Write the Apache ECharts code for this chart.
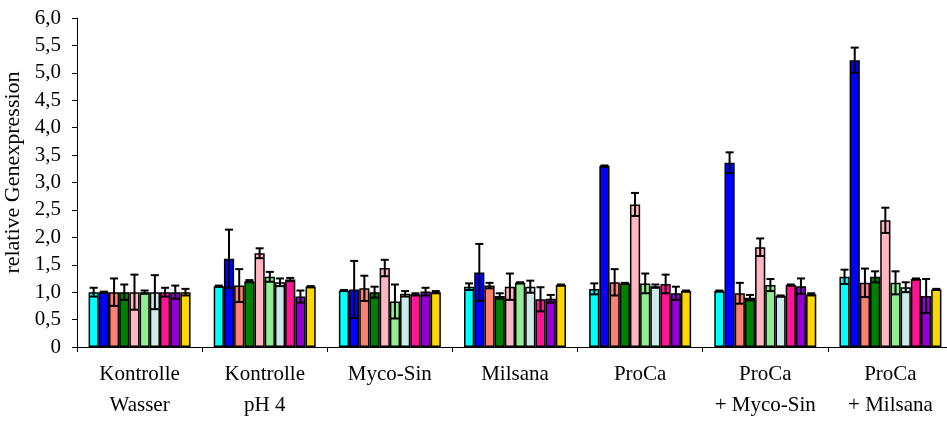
<!DOCTYPE html>
<html>
<head>
<meta charset="utf-8">
<script src="https://cdn.jsdelivr.net/npm/echarts@6/dist/echarts.min.js"></script>
<style>
  html, body { margin: 0; padding: 0; background: #fff; }
  #chart { width: 947px; height: 422px; }
</style>
</head>
<body>
<div id="chart"></div>
<script>
// Treatment groups on the x axis
const categories = [
  'Kontrolle\nWasser', 'Kontrolle\npH 4', 'Myco-Sin', 'Milsana',
  'ProCa', 'ProCa\n+ Myco-Sin', 'ProCa\n+ Milsana'
];

// Y axis ticks (relative expression)
const yMin = 0;
const yMax = 6;
const yStep = 0.5;

// Mean relative expression per gene, one value per treatment group
const valCyan      = [1.00, 1.11, 1.03, 1.10, 1.06, 1.02, 1.28];
const valBlue      = [1.00, 1.61, 1.05, 1.36, 3.30, 3.36, 5.23];
const valSalmon    = [1.00, 1.12, 1.07, 1.12, 1.18, 0.98, 1.17];
const valGreen     = [1.00, 1.20, 1.00, 0.93, 1.16, 0.90, 1.28];
const valPink      = [1.00, 1.71, 1.44, 1.10, 2.60, 1.82, 2.31];
const valLightGrn  = [1.00, 1.28, 0.83, 1.17, 1.16, 1.13, 1.17];
const valPaleCyan  = [1.00, 1.18, 0.97, 1.10, 1.11, 0.93, 1.09];
const valDeepPink  = [1.00, 1.23, 0.96, 0.87, 1.15, 1.13, 1.24];
const valViolet    = [1.00, 0.92, 1.01, 0.88, 0.98, 1.11, 0.93];
const valGold      = [1.00, 1.10, 1.00, 1.13, 1.02, 0.96, 1.05];

// Standard deviations (symmetric error bars)
const errCyan      = [0.08, 0.01, 0.01, 0.06, 0.10, 0.01, 0.13];
const errBlue      = [0.01, 0.53, 0.52, 0.52, 0.01, 0.19, 0.23];
const errSalmon    = [0.25, 0.30, 0.23, 0.05, 0.24, 0.19, 0.26];
const errGreen     = [0.14, 0.02, 0.10, 0.05, 0.01, 0.05, 0.10];
const errPink      = [0.32, 0.09, 0.15, 0.24, 0.21, 0.16, 0.23];
const errLightGrn  = [0.03, 0.09, 0.31, 0.01, 0.18, 0.11, 0.21];
const errPaleCyan  = [0.31, 0.07, 0.05, 0.11, 0.03, 0.01, 0.09];
const errDeepPink  = [0.08, 0.03, 0.02, 0.22, 0.17, 0.01, 0.01];
const errViolet    = [0.12, 0.11, 0.07, 0.07, 0.12, 0.14, 0.31];
const errGold      = [0.06, 0.01, 0.02, 0.01, 0.01, 0.02, 0.01];

const seriesDefs = [
  { vals: valCyan,     errs: errCyan,     color: '#00FFFF' },
  { vals: valBlue,     errs: errBlue,     color: '#0000FF' },
  { vals: valSalmon,   errs: errSalmon,   color: '#FA8072' },
  { vals: valGreen,    errs: errGreen,    color: '#008000' },
  { vals: valPink,     errs: errPink,     color: '#FFB6C1' },
  { vals: valLightGrn, errs: errLightGrn, color: '#90EE90' },
  { vals: valPaleCyan, errs: errPaleCyan, color: '#CDE9E9' },
  { vals: valDeepPink, errs: errDeepPink, color: '#FF1493' },
  { vals: valViolet,   errs: errViolet,   color: '#9400D3' },
  { vals: valGold,     errs: errGold,     color: '#FFD700' }
];

const CATEGORY_GAP = 0.185;
const FONT = '"Liberation Serif", "DejaVu Serif", serif';

function barSeries(def, k) {
  return {
    type: 'bar',
    name: 'g' + (k + 1),
    data: def.vals,
    barGap: '0%',
    barCategoryGap: (CATEGORY_GAP * 100) + '%',
    itemStyle: { color: def.color, borderColor: '#000', borderWidth: 1.5 },
    z: 2
  };
}

function errorSeries(def, k, count) {
  return {
    type: 'custom',
    data: def.vals.map((v, i) => [i, v, def.errs[i]]),
    encode: { x: 0, y: 1 },
    z: 5,
    renderItem: function (params, api) {
      const i = api.value(0);
      const v = api.value(1);
      const e = api.value(2);
      const band = api.size([1, 0])[0];
      const groupW = band * (1 - CATEGORY_GAP);
      const bw = groupW / count;
      const cx = api.coord([i, 0])[0] - groupW / 2 + bw * (k + 0.5);
      const yHi = api.coord([i, v + e])[1];
      const yLo = api.coord([i, v - e])[1];
      const cap = 4;
      const style = { stroke: '#000', lineWidth: 2 };
      return {
        type: 'group',
        children: [
          { type: 'line', shape: { x1: cx, y1: yHi, x2: cx, y2: yLo }, style: style },
          { type: 'line', shape: { x1: cx - cap, y1: yHi, x2: cx + cap, y2: yHi }, style: style },
          { type: 'line', shape: { x1: cx - cap, y1: yLo, x2: cx + cap, y2: yLo }, style: style }
        ]
      };
    }
  };
}

const series = [];
seriesDefs.forEach((d, k) => series.push(barSeries(d, k)));
seriesDefs.forEach((d, k) => series.push(errorSeries(d, k, seriesDefs.length)));

const chart = echarts.init(document.getElementById('chart'), null, { renderer: 'canvas' });
chart.setOption({
  animation: false,
  backgroundColor: '#fff',
  grid: {
    left: 77, top: 18, width: 876, height: 329,
    containLabel: false, outerBoundsMode: 'none'
  },
  xAxis: {
    type: 'category',
    data: categories,
    axisLine: { lineStyle: { color: '#000', width: 1 } },
    axisTick: { show: true, alignWithLabel: false, length: 5, lineStyle: { color: '#000' } },
    axisLabel: {
      interval: 0, color: '#000', fontFamily: FONT, fontSize: 21,
      lineHeight: 31, margin: 12
    }
  },
  yAxis: {
    type: 'value',
    min: yMin, max: yMax, interval: yStep,
    name: 'relative Genexpression',
    nameLocation: 'middle',
    nameGap: 49,
    nameTextStyle: { color: '#000', fontFamily: FONT, fontSize: 22, padding: [0, 0, 0, 20] },
    splitLine: { show: false },
    axisLine: { show: true, lineStyle: { color: '#000', width: 1 } },
    axisTick: { show: true, length: 5, lineStyle: { color: '#000' } },
    axisLabel: {
      color: '#000', fontFamily: FONT, fontSize: 21, margin: 16,
      formatter: v => v === 0 ? '0' : v.toFixed(1).replace('.', ',')
    }
  },
  series: series
});
</script>
</body>
</html>
